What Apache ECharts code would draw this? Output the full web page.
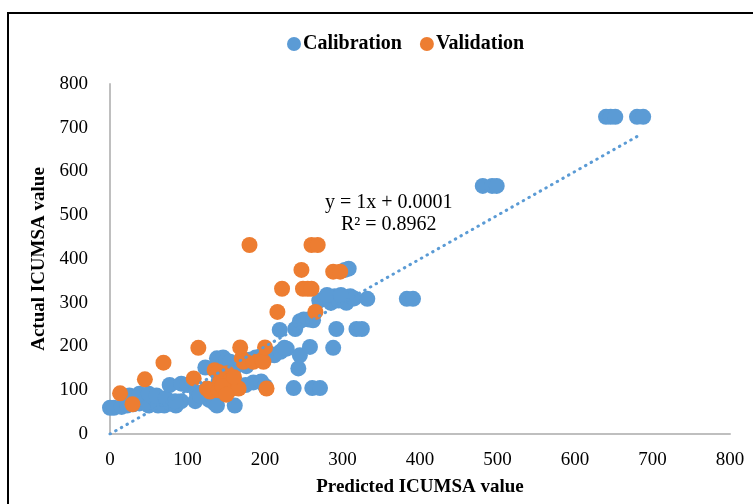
<!DOCTYPE html>
<html>
<head>
<meta charset="utf-8">
<script src="https://cdn.jsdelivr.net/npm/echarts@6/dist/echarts.min.js"></script>
<style>
  html, body { margin: 0; padding: 0; background: #fff; }
  #chart { width: 753px; height: 504px; }
</style>
</head>
<body>
<div id="chart"></div>
<script>
// calibration points [predicted, actual]
const calibration = [
  [0, 60], [5, 60], [15, 62], [22, 65], [30, 68], [38, 70], [45, 72], [50, 65], [55, 85], [62, 65],
  [70, 65], [78, 70], [85, 65], [92, 75], [25, 88], [38, 92], [50, 92], [60, 88], [72, 82], [84, 75],
  [77, 112], [92, 115], [100, 112], [112, 95], [120, 90], [128, 78], [110, 75], [116, 88], [135, 70], [138, 65],
  [161, 65], [123, 152], [138, 173], [146, 175], [150, 168], [155, 165], [176, 155], [160, 150], [170, 165], [180, 170],
  [188, 175], [140, 120], [150, 115], [160, 108], [175, 112], [185, 118], [195, 120], [200, 110],
  [205, 185], [212, 180], [220, 188], [228, 195], [245, 180], [258, 199], [225, 197], [288, 197],
  [219, 238], [239, 240], [245, 258], [250, 262], [256, 262], [262, 260],
  [237, 105], [261, 105], [271, 105], [243, 150],
  [270, 305], [278, 310], [285, 300], [290, 315], [295, 305], [300, 310], [305, 300], [310, 315], [315, 310], [332, 309],
  [280, 318], [298, 318], [303, 375], [308, 378], [292, 240], [318, 240], [325, 240],
  [383, 309], [391, 309], [481, 567], [493, 567], [499, 567],
  [640, 725], [646, 725], [652, 725], [680, 725], [688, 725]
];

// validation points [predicted, actual]
const validation = [
  [13, 93], [29, 68], [45, 125], [69, 163], [108, 127], [114, 197], [125, 104], [133, 101], [129, 97], [135, 146],
  [140, 142], [142, 120], [151, 139], [155, 101], [155, 123], [166, 104], [168, 198], [170, 173], [172, 165], [185, 165],
  [196, 169], [198, 165], [202, 104], [200, 198], [180, 432], [216, 279], [222, 332], [247, 375], [249, 332], [255, 332],
  [260, 332], [260, 432], [268, 432], [265, 279], [288, 371], [297, 371], [140, 100], [145, 110], [160, 130], [150, 90]
];

// linear trend of calibration: y = 1x + 0.0001
const trendSlope = 1;
const trendIntercept = 0.0001;
const trendX = [0, 680];

const equationText = 'y = 1x + 0.0001';
const r2Text = 'R² = 0.8962';

const blue = '#5B9BD5';
const orange = '#ED7D31';
const serif = '"Liberation Serif", "Times New Roman", serif';

const chart = echarts.init(document.getElementById('chart'));

const option = {
  backgroundColor: '#ffffff',
  animation: false,
  textStyle: { fontFamily: serif },
  graphic: [
    {
      type: 'rect',
      shape: { x: 8, y: 13, width: 760, height: 500 },
      style: { fill: 'none', stroke: '#000', lineWidth: 2 },
      silent: true
    },
    {
      type: 'text',
      left: 325, top: 193,
      style: { text: equationText, font: '20px ' + serif, fill: '#000' }
    },
    {
      type: 'text',
      left: 341, top: 215,
      style: { text: r2Text, font: '20px ' + serif, fill: '#000' }
    }
  ],
  legend: {
    top: 29,
    left: 282,
    itemWidth: 14,
    itemHeight: 14,
    itemGap: 18,
    icon: 'circle',
    data: ['Calibration', 'Validation'],
    textStyle: { fontFamily: serif, fontSize: 20, fontWeight: 'bold', color: '#000', padding: [0, 0, 0, -3] }
  },
  grid: { left: 110, right: 23, top: 84, bottom: 70 },
  xAxis: {
    type: 'value',
    min: 0, max: 800, interval: 100,
    name: 'Predicted ICUMSA value',
    nameLocation: 'middle',
    nameGap: 44,
    nameTextStyle: { fontFamily: serif, fontSize: 19, fontWeight: 'bold', color: '#000' },
    axisLine: { show: true, lineStyle: { color: '#BFBFBF', width: 2 } },
    axisTick: { show: false },
    splitLine: { show: false },
    axisLabel: { fontFamily: serif, fontSize: 19, color: '#000', margin: 17 }
  },
  yAxis: {
    type: 'value',
    min: 0, max: 800, interval: 100,
    name: 'Actual ICUMSA value',
    nameLocation: 'middle',
    nameGap: 61,
    nameTextStyle: { fontFamily: serif, fontSize: 19, fontWeight: 'bold', color: '#000' },
    axisLine: { show: true, lineStyle: { color: '#BFBFBF', width: 2 } },
    axisTick: { show: false },
    splitLine: { show: false },
    axisLabel: { fontFamily: serif, fontSize: 19, color: '#000', margin: 22 }
  },
  series: [
    {
      name: 'Calibration',
      type: 'scatter',
      symbolSize: 16,
      itemStyle: { color: blue, opacity: 1 },
      data: calibration,
      z: 2
    },
    {
      name: 'Validation',
      type: 'scatter',
      symbolSize: 16,
      itemStyle: { color: orange, opacity: 1 },
      data: validation,
      z: 3
    },
    {
      name: 'Trend',
      type: 'line',
      showSymbol: false,
      silent: true,
      lineStyle: { color: blue, width: 3, type: [0.5, 6], cap: 'round' },
      data: trendX.map(x => [x, trendSlope * x + trendIntercept]),
      z: 4
    }
  ]
};

chart.setOption(option);
</script>
</body>
</html>
